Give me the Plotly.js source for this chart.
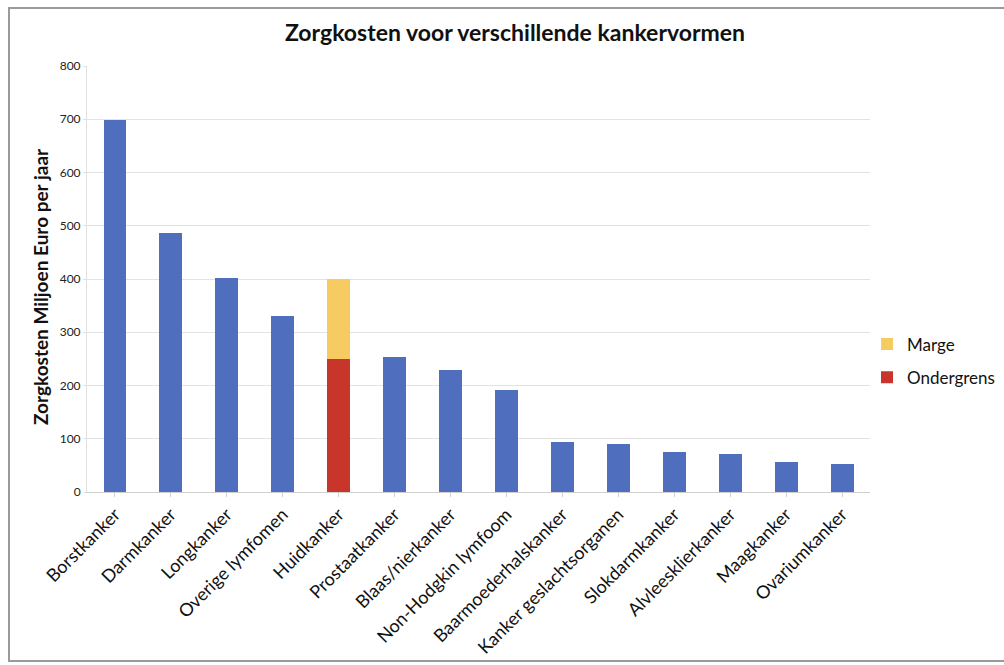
<!DOCTYPE html>
<html>
<head>
<meta charset="utf-8">
<script src="https://cdn.plot.ly/plotly-3.0.1.min.js"></script>
<style>
html,body{margin:0;padding:0;background:#fff;}
#chart{width:1004px;height:665px;}
</style>
</head>
<body>
<div id="chart"></div>
<script>
const categories = ["Borstkanker","Darmkanker","Longkanker","Overige lymfomen","Huidkanker","Prostaatkanker","Blaas/nierkanker","Non-Hodgkin lymfoom","Baarmoederhalskanker","Kanker geslachtsorganen","Slokdarmkanker","Alvleesklierkanker","Maagkanker","Ovariumkanker"];
const zorgkosten = [698, 487, 401, 330, null, 253, 230, 192, 94, 90, 75, 71, 56, 52];
const ondergrens = [null, null, null, null, 250, null, null, null, null, null, null, null, null, null];
const marge = [null, null, null, null, 150, null, null, null, null, null, null, null, null, null];
const yTicks = [0, 100, 200, 300, 400, 500, 600, 700, 800];

const FONT = "Lato, 'Open Sans', sans-serif";

const traces = [
  {type:"bar", x:categories, y:zorgkosten, name:"Zorgkosten", showlegend:false,
   marker:{color:"#4f6fbe"}, hoverinfo:"x+y"},
  {type:"bar", x:categories, y:ondergrens, name:"Ondergrens", legendrank:2, legendgroup:"g2",
   marker:{color:"#c8352b"}},
  {type:"bar", x:categories, y:marge, name:"Marge", legendrank:1, legendgroup:"g1",
   marker:{color:"#f6cc62"}}
];

const L = 87, R = 870, T = 66, B = 492;
const W = R - L, H = B - T;
const px = v => (v - L) / W;
const py = v => (B - v) / H;

const layout = {
  width:1004, height:665,
  margin:{l:L, r:1004-R, t:T, b:665-B, pad:0, autoexpand:false},
  paper_bgcolor:"#fff", plot_bgcolor:"#fff",
  barmode:"stack", bargap:0.59,
  font:{family:FONT, color:"#111"},
  title:{text:"<b>Zorgkosten voor verschillende kankervormen</b>",
         font:{family:FONT, size:23, color:"#111"},
         x:px(515), xref:"paper", xanchor:"center", y:py(35), yref:"paper", yanchor:"middle"},
  xaxis:{tickangle:-45, tickfont:{family:FONT, size:18, color:"#111"}, automargin:false,
         showgrid:false, showline:true, linecolor:"#d0d0d0", linewidth:1,
         ticks:"outside", ticklen:4, tickcolor:"#d0d0d0", fixedrange:true},
  yaxis:{range:[0,800], tickvals:yTicks, ticktext:yTicks.map(String), automargin:false,
         tickfont:{family:FONT, size:12, color:"#222"},
         showgrid:true, gridcolor:"#e3e3e3", gridwidth:1, zeroline:false,
         showline:true, linecolor:"#e0e0e0", ticks:"outside", ticklen:3, tickcolor:"#e0e0e0",
         fixedrange:true},
  annotations:[
    {text:"<b>Zorgkosten Miljoen Euro per jaar</b>", xref:"paper", yref:"paper",
     x:px(40), y:py(287), xanchor:"center", yanchor:"middle", textangle:-90,
     showarrow:false, font:{family:FONT, size:19, color:"#111"}}
  ],
  legend:{xref:"container", yref:"container", x:867/1004, xanchor:"left",
          y:(665-361)/665, yanchor:"middle",
          font:{family:FONT, size:17, color:"#111"},
          traceorder:"grouped", tracegroupgap:8, itemwidth:30, bgcolor:"rgba(0,0,0,0)"},
  shapes:[
    {type:"rect", xref:"paper", yref:"paper",
     x0:px(9), x1:px(1030), y0:py(661), y1:py(8),
     line:{color:"#9a9a9a", width:2}, fillcolor:"rgba(0,0,0,0)", layer:"below"}
  ]
};

Plotly.newPlot("chart", traces, layout, {displayModeBar:false, staticPlot:true});
</script>
</body>
</html>
